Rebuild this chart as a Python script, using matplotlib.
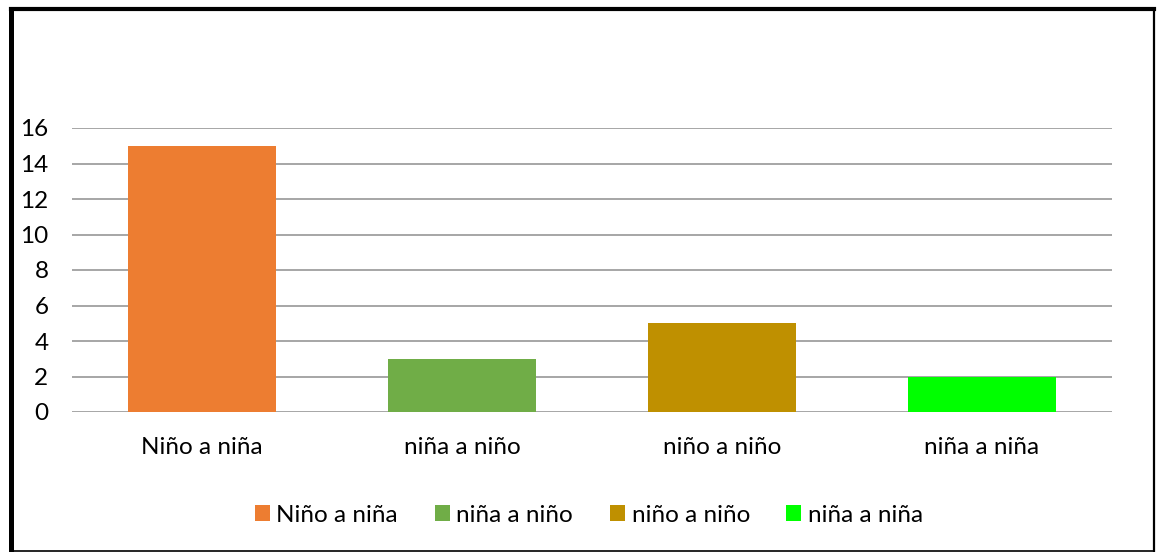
import matplotlib
matplotlib.use("Agg")
import matplotlib.pyplot as plt
from matplotlib.lines import Line2D
from matplotlib.patches import Patch

categories = ["Niño a niña", "niña a niño", "niño a niño", "niña a niña"]
values = [15, 3, 5, 2]
colors = ["#ED7D31", "#70AD47", "#BF9000", "#00FF00"]
y_ticks = [0, 2, 4, 6, 8, 10, 12, 14, 16]

plt.rcParams["font.family"] = ["Lato", "DejaVu Sans"]

W, H = 1157, 552
fig = plt.figure(figsize=(W / 100, H / 100), dpi=100)
fig.patch.set_facecolor("white")

ax = fig.add_axes([72 / W, 1 - 412 / H, (1112 - 72) / W, (412 - 128) / H])
x = range(len(categories))
ax.bar(x, values, width=0.573, color=colors, zorder=3)
ax.set_xlim(-0.5, len(categories) - 0.5)
ax.set_ylim(0, 16)
ax.set_yticks(y_ticks)
ax.set_xticks(list(x))
ax.set_xticklabels(categories)
ax.tick_params(axis="both", length=0, labelsize=17.5, labelcolor="#000000")
ax.tick_params(axis="y", pad=17)
ax.tick_params(axis="x", pad=18)
ax.grid(axis="y", color="#A6A6A6", linewidth=1.4, zorder=0)
for s in ax.spines.values():
    s.set_visible(False)

handles = [Patch(facecolor=c, edgecolor="none") for c in colors]
fig.legend(handles, categories, loc="center", bbox_to_anchor=(589 / W, 1 - 515 / H),
           ncol=4, frameon=False, fontsize=17.5, handlelength=0.62, handleheight=0.62,
           handletextpad=0.28, columnspacing=1.5, borderpad=0)

# frame around the chart
def fline(x0, y0, x1, y1, lw):
    fig.add_artist(Line2D([x0 / W, x1 / W], [1 - y0 / H, 1 - y1 / H],
                          color="black", linewidth=lw, solid_capstyle="projecting"))

fline(10.5, 9, 1154, 9, 3.0)
fline(10.5, 9, 10.5, 551, 3.6)
fline(1154, 9, 1154, 551, 1.6)
fline(10.5, 550.5, 1154, 550.5, 1.2)

fig.savefig("out.png", dpi=100, facecolor="white")
